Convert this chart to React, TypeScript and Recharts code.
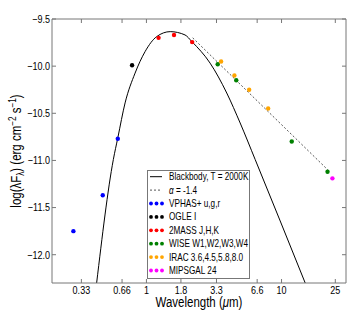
import React from 'react';
import { ComposedChart, XAxis, YAxis, Scatter, Line } from 'recharts';

const FONT = '"Liberation Sans", Arial, sans-serif';
const SX = 0.82; // horizontal squeeze to mimic a narrow face

const xTicks = [0.33, 0.66, 1, 1.8, 3.3, 6.6, 10, 25];
const yTicks = [-12.0, -11.5, -11.0, -10.5, -10.0, -9.5];

// Blackbody T = 2000K curve
const bbX = [0.428, 0.569, 0.614, 0.695, 0.824, 0.977, 1.19, 1.5, 1.93, 2.17, 2.96, 3.93, 4.94, 6.38, 14.97];
const bbY = [-12.3, -10.99, -10.76, -10.39, -10.074, -9.846, -9.687, -9.634, -9.669, -9.74, -9.968, -10.285, -10.603, -10.99, -12.3];

// alpha = -1.4 power-law line
const plX = [2.2, 22];
const plY = [-9.7, -11.1];

const vphasX = [0.288, 0.475, 0.614];
const vphasY = [-11.75, -11.37, -10.77];
const ogleX = [0.783];
const ogleY = [-9.99];
const tmassX = [1.23, 1.6, 2.18];
const tmassY = [-9.7, -9.67, -9.745];
const wiseX = [3.37, 4.62, 11.9, 21.9];
const wiseY = [-9.98, -10.15, -10.8, -11.12];
const iracX = [3.57, 4.48, 5.76, 7.96];
const iracY = [-9.95, -10.1, -10.25, -10.45];
const mipsX = [23.8];
const mipsY = [-11.19];

const zip = (xs: number[], ys: number[]) => xs.map((x, i) => ({ x, y: ys[i] }));

const series = [
  { name: 'VPHAS+ u,g,r', color: '#0000ff', data: zip(vphasX, vphasY) },
  { name: 'OGLE I', color: '#000000', data: zip(ogleX, ogleY) },
  { name: '2MASS J,H,K', color: '#ff0000', data: zip(tmassX, tmassY) },
  { name: 'WISE W1,W2,W3,W4', color: '#008000', data: zip(wiseX, wiseY) },
  { name: 'IRAC 3.6,4.5,5.8,8.0', color: '#ffa500', data: zip(iracX, iracY) },
  { name: 'MIPSGAL 24', color: '#ff00ff', data: zip(mipsX, mipsY) },
];

const AXIS = '#777';

const fmtY = (v: number) => (v < 0 ? '\u2212' : '') + Math.abs(v).toFixed(1);

const LegendBox = () => {
  const rowH = 13.4;
  const T = (x: number, y: number, children: React.ReactNode) => (
    <g transform={`translate(${x},${y}) scale(${SX},1)`}>
      <text x={0} y={0} dy="0.35em" fontSize={10} fontFamily={FONT} fill="#000">{children}</text>
    </g>
  );
  return (
    <div style={{ position: 'absolute', left: 147, top: 170, width: 103, height: 109, border: `1px solid ${AXIS}`, background: '#fff', boxSizing: 'border-box' }}>
      <svg width={101} height={107} style={{ display: 'block' }}>
        <line x1={2} x2={14} y1={5.7} y2={5.7} stroke="#000" strokeWidth={1} />
        {T(21, 5.7, 'Blackbody, T = 2000K')}
        <line x1={2} x2={14} y1={5.7 + rowH} y2={5.7 + rowH} stroke="#555" strokeWidth={1} strokeDasharray="2 2" />
        {T(21, 5.7 + rowH, <><tspan fontStyle="italic">α</tspan> = -1.4</>)}
        {series.map((s, i) => {
          const cy = 5.7 + rowH * (i + 2);
          return (
            <g key={s.name}>
              {[3, 8.5, 14].map((cx) => (
                <circle key={cx} cx={cx} cy={cy} r={1.9} fill={s.color} />
              ))}
              {T(21, cy, s.name)}
            </g>
          );
        })}
      </svg>
    </div>
  );
};

const YLabel = () => (
  <text transform={`translate(21,151) rotate(-90) scale(${SX},1)`} textAnchor="middle" fontSize={14} fontFamily={FONT} fill="#000">
    log(λF<tspan fontSize={10} dy={3}>λ</tspan>
    <tspan dy={-3}>) (erg cm</tspan>
    <tspan fontSize={10} dy={-5}>−2</tspan>
    <tspan dy={5}> s</tspan>
    <tspan fontSize={10} dy={-5}>−1</tspan>
    <tspan dy={5}>)</tspan>
  </text>
);

const XLabel = () => (
  <text transform={`translate(199,307) scale(${SX},1)`} textAnchor="middle" fontSize={14} fontFamily={FONT} fill="#000">
    Wavelength (<tspan fontStyle="italic">μ</tspan>m)
  </text>
);

const BottomTick = (p: any) => (
  <g transform={`translate(${p.x},${p.y}) scale(${SX},1)`}>
    <text x={0} y={0} dy="0.71em" textAnchor="middle" fontSize={11} fontFamily={FONT} fill="#000">
      {String(p.payload.value)}
    </text>
  </g>
);

const LeftTick = (p: any) => (
  <g transform={`translate(${p.x},${p.y}) scale(${SX},1)`}>
    <text x={0} y={0} dy="0.355em" textAnchor="end" fontSize={11} fontFamily={FONT} fill="#000">
      {fmtY(p.payload.value)}
    </text>
  </g>
);

export default function App() {
  return (
    <div style={{ position: 'absolute', left: 0, top: 0, width: 357, height: 327, background: '#fff' }}>
      <ComposedChart width={357} height={327} margin={{ top: 0, right: 0, bottom: 0, left: 0 }}>
        <XAxis
          xAxisId="b"
          dataKey="x"
          type="number"
          scale="log"
          domain={[0.2, 30]}
          allowDataOverflow
          ticks={xTicks}
          interval={0}
          height={44}
          tickSize={-4}
          tickMargin={7}
          axisLine={{ stroke: AXIS }}
          tickLine={{ stroke: AXIS }}
          tick={BottomTick}
          label={{ content: () => <XLabel /> }}
        />
        <XAxis
          xAxisId="t"
          orientation="top"
          dataKey="x"
          type="number"
          scale="log"
          domain={[0.2, 30]}
          allowDataOverflow
          ticks={xTicks}
          interval={0}
          height={19}
          tickSize={-4}
          axisLine={{ stroke: AXIS }}
          tickLine={{ stroke: AXIS }}
          tick={() => <g />}
        />
        <YAxis
          yAxisId="l"
          dataKey="y"
          type="number"
          domain={[-12.3, -9.5]}
          allowDataOverflow
          ticks={yTicks}
          interval={0}
          width={52}
          tickSize={-4}
          tickMargin={6}
          axisLine={{ stroke: AXIS }}
          tickLine={{ stroke: AXIS }}
          tick={LeftTick}
          label={{ content: () => <YLabel /> }}
        />
        <YAxis
          yAxisId="r"
          orientation="right"
          dataKey="y"
          type="number"
          domain={[-12.3, -9.5]}
          allowDataOverflow
          ticks={yTicks}
          interval={0}
          width={11}
          tickSize={-4}
          axisLine={{ stroke: AXIS }}
          tickLine={{ stroke: AXIS }}
          tick={() => <g />}
        />
        <Line
          xAxisId="b"
          yAxisId="l"
          data={zip(bbX, bbY)}
          dataKey="y"
          type="monotone"
          stroke="#000"
          strokeWidth={1}
          dot={false}
          isAnimationActive={false}
          name="Blackbody, T = 2000K"
        />
        <Line
          xAxisId="b"
          yAxisId="l"
          data={zip(plX, plY)}
          dataKey="y"
          type="linear"
          stroke="#555"
          strokeWidth={1}
          strokeDasharray="2 2"
          dot={false}
          isAnimationActive={false}
          name="α = -1.4"
        />
        {series.map((s) => (
          <Scatter
            key={s.name}
            xAxisId="b"
            yAxisId="l"
            name={s.name}
            data={s.data}
            dataKey="y"
            fill={s.color}
            isAnimationActive={false}
            shape={(p: any) => <circle cx={p.cx} cy={p.cy} r={2.2} fill={s.color} />}
          />
        ))}
      </ComposedChart>
      <LegendBox />
    </div>
  );
}
